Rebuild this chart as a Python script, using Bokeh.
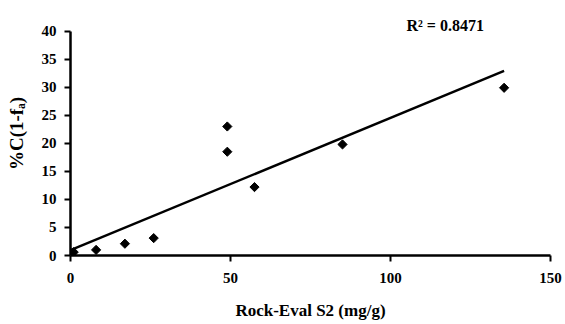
import numpy as np
from bokeh.plotting import figure
from bokeh.models import Range1d, Label, SingleIntervalTicker
from bokeh.embed import file_html
from bokeh.resources import INLINE

# Data
s2_mg_g = [0.0, 1.0, 8.0, 17.0, 26.0, 49.0, 49.0, 57.5, 85.0, 135.5]
c_1_fa = [0.2, 0.6, 1.0, 2.1, 3.1, 23.0, 18.5, 12.2, 19.8, 29.9]
x_ticks_interval = 50
y_ticks_interval = 5
r2_text = "R\u00b2 = 0.8471"
x_title = "Rock-Eval S2 (mg/g)"
y_title = "%C(1-f\u2090)"

FONT = "Liberation Serif"

p = figure(width=563, height=322, output_backend="svg", toolbar_location=None,
           x_range=Range1d(0, 150), y_range=Range1d(0, 43.5),
           min_border_left=70, min_border_right=13, min_border_top=11, min_border_bottom=65)
p.outline_line_color = None
p.xgrid.visible = False
p.ygrid.visible = False
p.background_fill_color = "white"
p.border_fill_color = "white"

for ax in (p.xaxis[0], p.yaxis[0]):
    ax.axis_line_width = 2.5
    ax.axis_line_color = "black"
    ax.major_tick_line_width = 2
    ax.major_tick_line_color = "black"
    ax.major_tick_in = 0
    ax.major_tick_out = 6
    ax.minor_tick_line_color = None
    ax.major_label_text_font = FONT
    ax.major_label_text_font_style = "bold"
    ax.major_label_text_font_size = "15px"
    ax.major_label_text_color = "black"
    ax.axis_label_text_font = FONT
    ax.axis_label_text_font_style = "bold"
    ax.axis_label_text_color = "black"

p.xaxis[0].ticker = SingleIntervalTicker(interval=x_ticks_interval)
p.yaxis[0].ticker = SingleIntervalTicker(interval=y_ticks_interval)
p.yaxis[0].bounds = (0, 40)
p.xaxis[0].major_label_standoff = 11
p.yaxis[0].major_label_standoff = 8
p.xaxis[0].axis_label = x_title
p.yaxis[0].axis_label = y_title
p.xaxis[0].axis_label_text_font_size = "17px"
p.yaxis[0].axis_label_text_font_size = "19px"
p.xaxis[0].axis_label_standoff = 15
p.yaxis[0].axis_label_standoff = 12

# Linear trend line fitted to the data
xs = np.array(s2_mg_g)
ys = np.array(c_1_fa)
slope, intercept = np.polyfit(xs, ys, 1)
fx = np.array([xs.min(), xs.max()])
p.line(fx, slope * fx + intercept, line_color="black", line_width=2.5)

p.scatter(s2_mg_g, c_1_fa, marker="square", angle=np.pi / 4, size=6.5,
          fill_color="black", line_color="black")

p.add_layout(Label(x=105, y=41.0, text=r2_text, text_font=FONT, text_font_style="bold",
                   text_font_size="16px", text_color="black", text_baseline="alphabetic"))

open("out.html", "w").write(file_html(p, INLINE))
